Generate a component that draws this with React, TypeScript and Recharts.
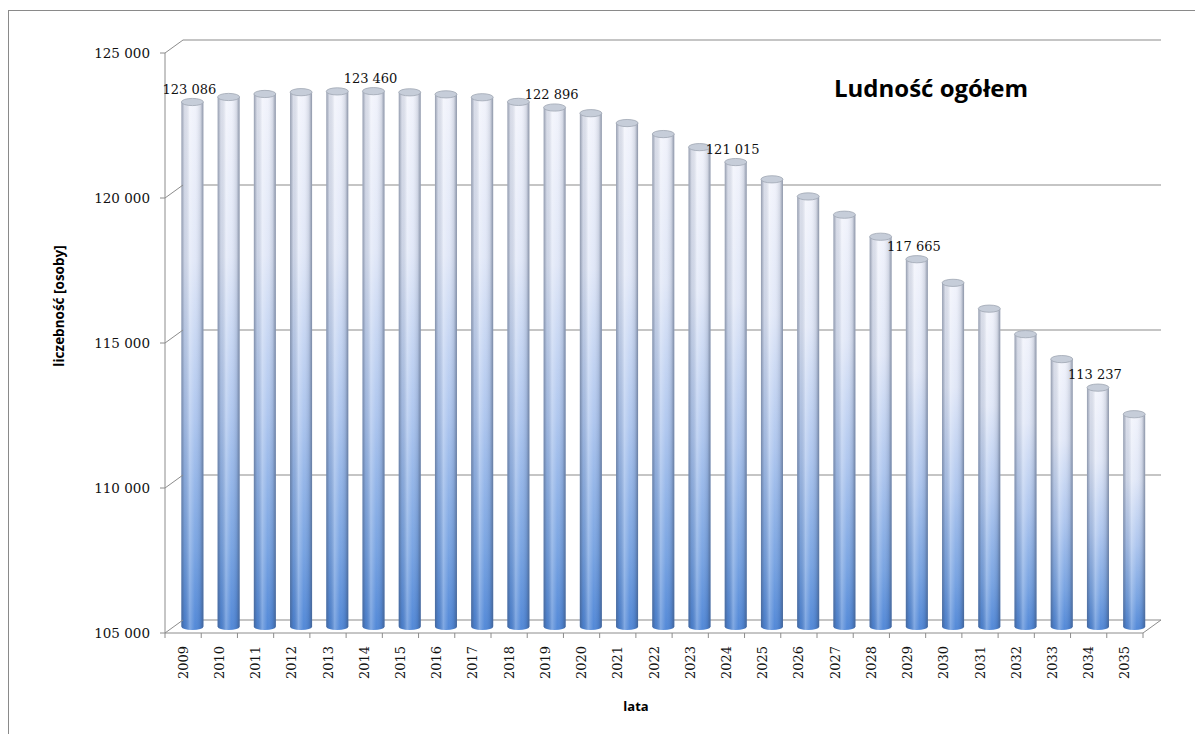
import React from "react";
import { Bar, BarChart, CartesianGrid, Customized, LabelList, XAxis, YAxis } from "recharts";

const years = [
  "2009", "2010", "2011", "2012", "2013", "2014", "2015", "2016", "2017",
  "2018", "2019", "2020", "2021", "2022", "2023", "2024", "2025", "2026",
  "2027", "2028", "2029", "2030", "2031", "2032", "2033", "2034", "2035",
];

const population = [
  123086, 123259, 123363, 123425, 123452, 123460, 123420, 123350, 123250,
  123090, 122896, 122700, 122360, 121980, 121530, 121015, 120420, 119830,
  119200, 118440, 117665, 116850, 115960, 115080, 114220, 113237, 112320,
];

const labelledYears = ["2009", "2014", "2019", "2024", "2029", "2034"];
const yTicks = [105000, 110000, 115000, 120000, 125000];

const data = years.map((year, i) => ({ year, value: population[i] }));

// chart geometry: the plot area is the back wall of the 3D box
const W = 1190;
const H = 725;
const PLOT_L = 174;
const PLOT_T = 29;
const PLOT_R = 1152;
const PLOT_B = 609;
const DEPTH_X = 18; // front edge is shifted left / down
const DEPTH_Y = 13;
const BAND = (PLOT_R - PLOT_L) / years.length;
const BAR_DX = -8.6; // bars stand half way into the depth
const BAR_DY = 6.5;

const LINE = "#8c8c8c";
const SERIF = "'DejaVu Serif', serif";
const SANS = "'Open Sans', 'Noto Sans', sans-serif";

const fmt = (v: number) => String(v).replace(/\B(?=(\d{3})+(?!\d))/g, " ");

function Cylinder(props: any) {
  const { x, y, width, height } = props;
  if (height == null || height <= 0) return null;
  const left = x + BAR_DX;
  const top = y + BAR_DY;
  const bottom = top + height;
  const rx = width / 2;
  const ry = 3.6;
  const body = `M${left},${top} L${left},${bottom} A${rx},${ry} 0 0 0 ${left + width},${bottom} L${left + width},${top} Z`;
  return (
    <g>
      <path d={body} fill="url(#cylBody)" />
      <path d={body} fill="url(#cylShade)" />
      <ellipse cx={left + rx} cy={top} rx={rx} ry={ry} fill="#c6cdd9" stroke="#9ea6b3" strokeWidth={0.8} />
    </g>
  );
}

function ValueLabel(props: any) {
  const { x, y, width, value, index } = props;
  if (!labelledYears.includes(years[index])) return null;
  return (
    <text
      x={x + BAR_DX + width / 2 - 3}
      y={y + BAR_DY - 13}
      textAnchor="middle"
      dominantBaseline="central"
      fontFamily={SERIF}
      fontSize={13}
      fill="#111"
    >
      {fmt(value)}
    </text>
  );
}

function YTick(props: any) {
  const { y, payload } = props;
  const fy = y + DEPTH_Y;
  const fx = PLOT_L - DEPTH_X;
  return (
    <g>
      <line x1={fx - 5} y1={fy} x2={fx} y2={fy} stroke={LINE} />
      <line x1={fx} y1={fy} x2={PLOT_L} y2={y} stroke={LINE} />
      <text
        x={fx - 15}
        y={fy}
        textAnchor="end"
        dominantBaseline="central"
        fontFamily={SERIF}
        fontSize={13.5}
        fill="#111"
      >
        {fmt(payload.value)}
      </text>
    </g>
  );
}

function XTick(props: any) {
  const { x, payload } = props;
  const cx = x - DEPTH_X;
  const fy = PLOT_B + DEPTH_Y;
  return (
    <text
      x={cx}
      y={fy + 13}
      transform={`rotate(-90, ${cx}, ${fy + 13})`}
      textAnchor="end"
      dominantBaseline="central"
      fontFamily={SERIF}
      fontSize={13}
      fill="#111"
    >
      {payload.value}
    </text>
  );
}

function Frame() {
  const fx = PLOT_L - DEPTH_X;
  const fr = PLOT_R - DEPTH_X;
  const fy = PLOT_B + DEPTH_Y;
  return (
    <g>
      <line x1={fx} y1={PLOT_T + DEPTH_Y} x2={fx} y2={fy} stroke={LINE} />
      <line x1={fx} y1={fy} x2={fr} y2={fy} stroke={LINE} />
      <line x1={fr} y1={fy} x2={PLOT_R} y2={PLOT_B} stroke={LINE} />
      {Array.from({ length: years.length + 1 }, (_, i) => (
        <line key={i} x1={fx + i * BAND} y1={fy} x2={fx + i * BAND} y2={fy + 5} stroke={LINE} />
      ))}
      <text x={922} y={86} textAnchor="middle" fontFamily={SANS} fontWeight="bold" fontSize={24} fill="#000">
        Ludność ogółem
      </text>
      <text
        x={50}
        y={295}
        transform="rotate(-90, 50, 295)"
        textAnchor="middle"
        dominantBaseline="central"
        fontFamily={SANS}
        fontWeight="bold"
        fontSize={13.5}
        fill="#000"
      >
        liczebność [osoby]
      </text>
      <text x={627} y={695} textAnchor="middle" dominantBaseline="central" fontFamily={SANS} fontWeight="bold" fontSize={13} fill="#000">
        lata
      </text>
    </g>
  );
}

export default function App() {
  return (
    <div
      style={{
        position: "relative",
        top: 2,
        width: W,
        height: H,
        borderTop: "1px solid #8a8a8a",
        borderLeft: "1px solid #8a8a8a",
        background: "#fff",
      }}
    >
      <svg width={0} height={0} style={{ position: "absolute" }}>
        <defs>
          <linearGradient id="cylBody" x1="0" y1="0" x2="0" y2="1">
            <stop offset="0%" stopColor="#f0f2fb" />
            <stop offset="30%" stopColor="#dfe6f7" />
            <stop offset="60%" stopColor="#abc4ee" />
            <stop offset="85%" stopColor="#73a0e1" />
            <stop offset="100%" stopColor="#4a83d6" />
          </linearGradient>
          <linearGradient id="cylShade" x1="0" y1="0" x2="1" y2="0">
            <stop offset="0%" stopColor="#3c4a64" stopOpacity={0.5} />
            <stop offset="15%" stopColor="#3c4a64" stopOpacity={0.12} />
            <stop offset="38%" stopColor="#ffffff" stopOpacity={0.3} />
            <stop offset="62%" stopColor="#ffffff" stopOpacity={0.05} />
            <stop offset="86%" stopColor="#3c4a64" stopOpacity={0.15} />
            <stop offset="100%" stopColor="#3c4a64" stopOpacity={0.55} />
          </linearGradient>
        </defs>
      </svg>
      <BarChart
        width={W}
        height={H}
        data={data}
        margin={{ top: PLOT_T, right: W - PLOT_R, bottom: H - PLOT_B - 30, left: PLOT_L - 60 }}
      >
        <CartesianGrid vertical={false} stroke={LINE} strokeWidth={1.2} />
        <Customized component={Frame} />
        <XAxis dataKey="year" interval={0} height={30} axisLine={false} tickLine={false} tick={<XTick />} />
        <YAxis
          domain={[105000, 125000]}
          ticks={yTicks}
          interval={0}
          width={60}
          axisLine={false}
          tickLine={false}
          tick={<YTick />}
        />
        <Bar dataKey="value" barSize={22} shape={<Cylinder />} isAnimationActive={false}>
          <LabelList dataKey="value" content={<ValueLabel />} />
        </Bar>
      </BarChart>
    </div>
  );
}
